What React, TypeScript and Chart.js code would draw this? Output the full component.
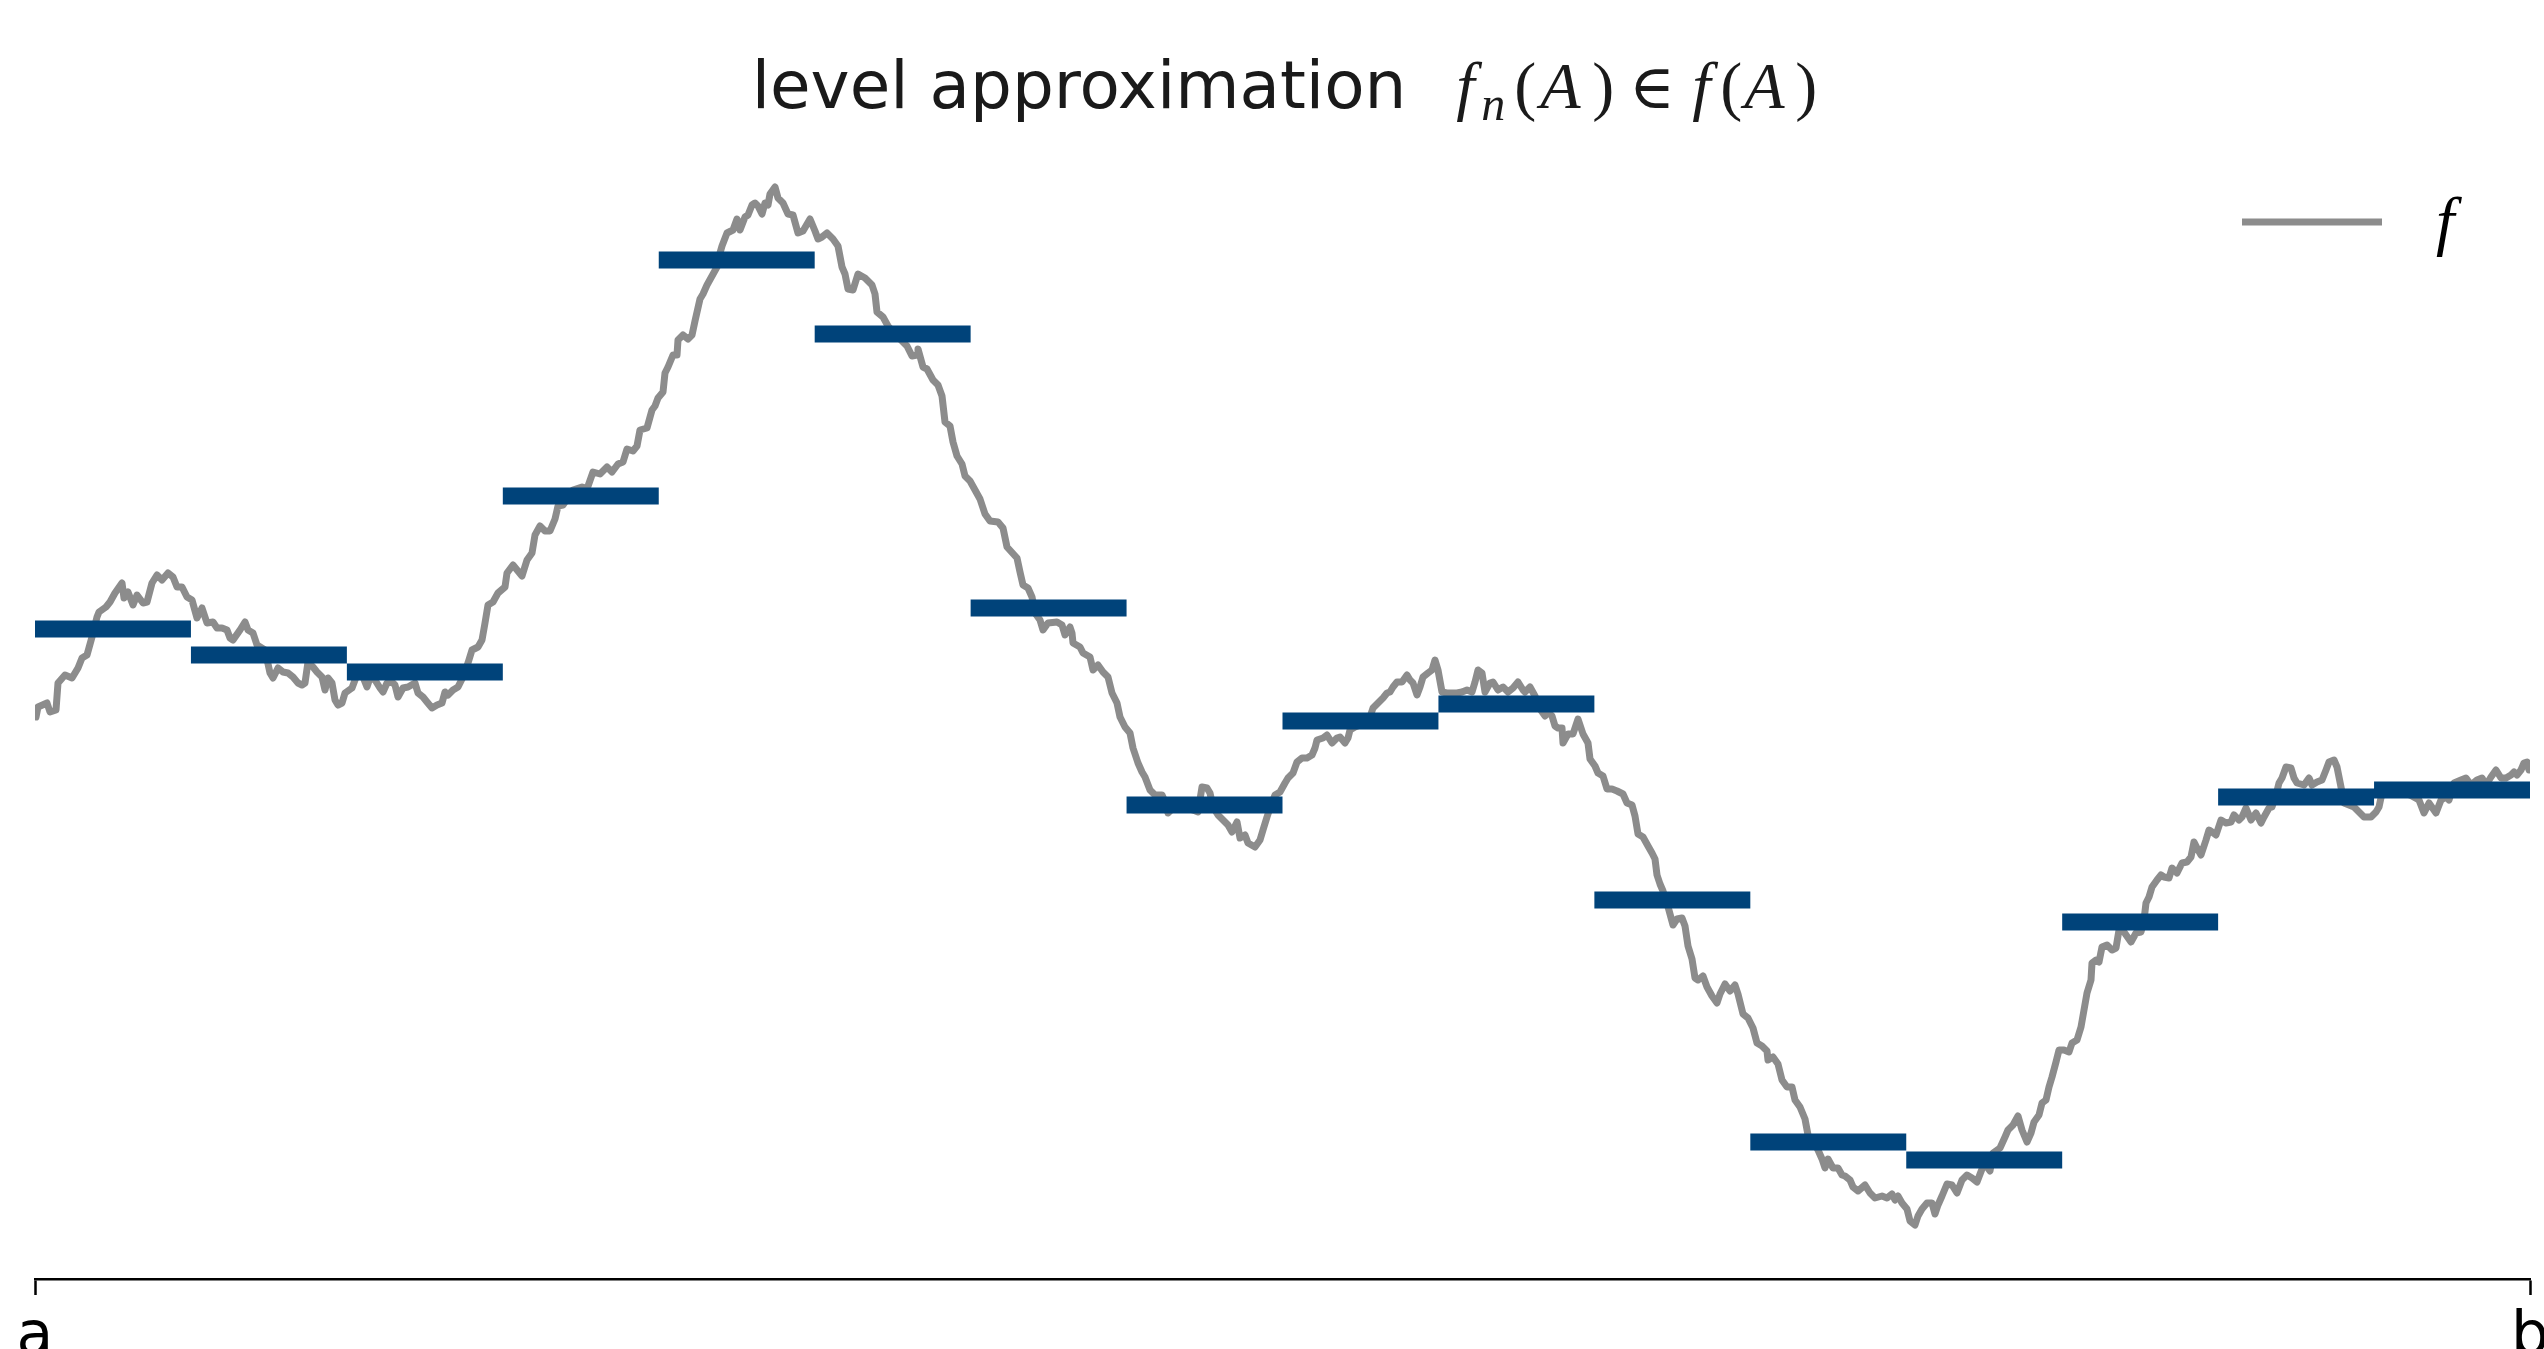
import React, { useEffect, useRef } from 'react';
import { Chart, registerables } from 'chart.js';

Chart.register(...registerables);

// ---- data ----
const X_A = 0;
const X_B = 2495;
const Y_MIN = 0;
const Y_MAX = 1129;
const TICK_LABELS = ['a', 'b'];
const TITLE_TEXT = 'level approximation';
const LEGEND_LABEL = 'f';

// level values f_n(A) for the 16 equal sub-intervals of [a, b]
const LEVELS = [650, 624, 607, 783, 1019, 945, 671, 474, 558, 575, 379, 137, 119, 357, 482, 489];

// samples of f: [x, f(x)]
const F_SAMPLES: [number, number][] = [
  [1,562],[3,572],[12,576],[15,567],[21,569],[23,596],[30,604],[37,601],[43,611],[47,621],[52,624],[57,642],[62,662],[64,667],[71,672],[75,677],[80,686],[87,696],[89,681],[93,687],[98,674],[102,684],[108,676],[112,677],[117,696],[122,704],[127,699],[133,706],[138,702],[142,692],[147,692],[152,682],[157,679],[162,661],[167,671],[172,656],[178,657],[182,651],[187,651],[192,649],[195,641],[198,639],[205,649],[210,657],[213,649],[218,646],[222,634],[230,629],[235,606],[238,601],[243,611],[248,607],[253,606],[258,602],[263,596],[267,594],[270,596],[273,617],[278,612],[282,607],[287,602],[290,589],[293,601],[297,596],[300,579],[303,574],[307,576],[310,586],[317,591],[320,599],[323,607],[328,602],[332,592],[335,601],[340,599],[345,591],[348,587],[352,596],[357,597],[360,594],[363,582],[368,591],[373,592],[380,596],[383,586],[388,582],[392,577],[397,571],[402,574],[407,576],[410,587],[413,584],[418,589],[423,592],[428,602],[433,616],[437,629],[443,632],[447,639],[450,656],[453,674],[458,677],[463,686],[470,692],[472,706],[478,714],[487,703],[492,719],[497,726],[500,744],[505,753],[510,748],[515,748],[520,760],[523,773],[528,774],[538,789],[547,792],[552,790],[558,807],[565,805],[572,812],[577,807],[583,815],[588,817],[592,830],[598,828],[602,833],[605,849],[612,851],[617,869],[620,873],[623,881],[628,887],[630,906],[633,912],[638,924],[642,924],[643,939],[648,944],[653,940],[657,944],[660,958],[665,980],[668,985],[672,994],[677,1003],[682,1012],[685,1026],[687,1033],[692,1046],[698,1049],[702,1060],[705,1049],[710,1062],[713,1064],[717,1074],[720,1076],[723,1073],[727,1065],[730,1076],[733,1074],[735,1085],[740,1092],[743,1081],[748,1076],[753,1065],[758,1064],[763,1046],[768,1048],[775,1060],[780,1048],[783,1040],[787,1042],[792,1046],[798,1040],[803,1033],[807,1012],[810,1005],[813,990],[818,989],[823,1005],[830,1001],[837,994],[840,985],[842,967],[848,962],[853,953],[865,940],[872,933],[877,923],[882,924],[883,930],[888,912],[892,910],[898,899],[903,894],[907,883],[910,857],[915,853],[918,837],[922,823],[927,815],[930,803],[935,798],[940,789],[945,780],[950,765],[955,758],[963,757],[968,751],[972,732],[982,721],[985,707],[988,694],[993,691],[997,682],[1000,666],[1005,659],[1008,649],[1013,656],[1022,657],[1027,654],[1030,644],[1035,652],[1037,646],[1038,636],[1045,632],[1048,626],[1055,622],[1058,609],[1063,614],[1068,607],[1073,602],[1077,586],[1082,576],[1085,562],[1090,552],[1095,546],[1098,531],[1103,516],[1107,507],[1110,502],[1115,489],[1120,484],[1127,484],[1130,477],[1133,466],[1138,471],[1145,474],[1152,472],[1158,469],[1163,467],[1167,492],[1172,491],[1175,486],[1178,472],[1183,464],[1188,459],[1193,454],[1197,447],[1202,457],[1205,441],[1210,444],[1213,436],[1220,432],[1225,439],[1228,449],[1232,462],[1235,471],[1240,484],[1245,487],[1250,496],[1253,501],[1258,506],[1262,517],[1267,521],[1272,521],[1277,524],[1280,531],[1282,539],[1288,541],[1292,544],[1297,536],[1302,541],[1305,542],[1310,536],[1313,541],[1315,549],[1320,552],[1325,554],[1330,559],[1335,562],[1338,571],[1343,576],[1348,581],[1352,586],[1355,587],[1358,592],[1362,597],[1367,597],[1372,604],[1375,599],[1378,596],[1382,584],[1385,592],[1388,602],[1393,606],[1397,609],[1400,619],[1403,609],[1407,587],[1412,586],[1417,586],[1422,586],[1427,587],[1432,589],[1437,587],[1440,597],[1443,609],[1447,606],[1450,587],[1455,596],[1458,597],[1463,589],[1468,592],[1473,587],[1478,591],[1483,597],[1488,589],[1490,587],[1495,592],[1500,583],[1505,570],[1510,563],[1513,567],[1517,563],[1520,553],[1523,551],[1527,551],[1528,536],[1533,545],[1538,545],[1543,560],[1548,545],[1553,536],[1555,520],[1560,513],[1563,506],[1568,503],[1572,490],[1577,490],[1582,488],[1588,485],[1592,476],[1597,474],[1600,463],[1603,445],[1608,442],[1613,433],[1617,426],[1620,420],[1622,404],[1625,395],[1628,388],[1632,376],[1635,365],[1638,354],[1642,360],[1647,361],[1650,353],[1653,333],[1657,320],[1660,301],[1663,299],[1668,303],[1672,292],[1677,283],[1682,276],[1685,285],[1690,295],[1695,288],[1700,294],[1703,285],[1708,265],[1713,261],[1718,251],[1722,236],[1727,233],[1732,228],[1733,219],[1738,222],[1743,215],[1747,199],[1752,192],[1757,192],[1760,179],[1765,172],[1770,160],[1773,144],[1778,138],[1783,129],[1787,120],[1790,111],[1793,120],[1798,111],[1803,111],[1807,104],[1810,103],[1815,99],[1818,92],[1823,88],[1830,94],[1835,86],[1840,81],[1847,83],[1852,81],[1857,85],[1860,79],[1863,83],[1867,76],[1872,70],[1875,58],[1880,54],[1883,63],[1887,70],[1892,76],[1897,76],[1900,65],[1903,74],[1907,83],[1912,95],[1917,94],[1922,86],[1927,99],[1932,104],[1937,101],[1942,97],[1947,110],[1950,115],[1955,108],[1958,126],[1965,131],[1970,142],[1973,149],[1978,154],[1983,163],[1987,149],[1992,137],[1996,146],[1999,157],[2004,164],[2007,176],[2011,179],[2014,192],[2017,202],[2021,217],[2024,229],[2029,229],[2034,227],[2037,236],[2042,239],[2046,252],[2049,269],[2052,286],[2056,299],[2057,316],[2061,319],[2064,317],[2067,332],[2072,334],[2077,329],[2081,331],[2084,349],[2089,347],[2096,337],[2101,346],[2106,347],[2109,359],[2111,376],[2114,382],[2117,392],[2122,399],[2126,404],[2129,402],[2134,401],[2137,411],[2142,406],[2147,416],[2152,417],[2156,422],[2159,437],[2162,431],[2166,424],[2171,439],[2174,449],[2177,447],[2181,444],[2186,459],[2191,456],[2196,457],[2199,464],[2204,459],[2207,462],[2211,471],[2216,459],[2221,466],[2226,456],[2229,462],[2234,471],[2237,472],[2241,484],[2244,496],[2247,501],[2251,512],[2256,511],[2259,501],[2262,496],[2269,494],[2274,501],[2277,494],[2282,497],[2287,499],[2291,509],[2294,517],[2299,519],[2302,512],[2306,492],[2309,476],[2314,474],[2319,472],[2324,467],[2329,462],[2336,462],[2341,467],[2344,472],[2347,486],[2352,487],[2365,489],[2375,484],[2384,479],[2389,466],[2394,476],[2401,466],[2406,479],[2411,482],[2414,479],[2419,496],[2426,499],[2431,501],[2436,494],[2442,499],[2447,501],[2451,494],[2456,502],[2461,509],[2466,501],[2471,501],[2476,504],[2479,507],[2482,504],[2486,509],[2489,516],[2492,517],[2494,509]
];

// ---- styles ----
const LINE_COLOR = '#8c8c8c';
const BAR_COLOR = '#00437a';
const SERIF = '"Liberation Serif", "DejaVu Serif", serif';

const titleLegendPlugin = {
  id: 'titleLegend',
  afterDraw(chart: any) {
    const { ctx, chartArea } = chart;
    ctx.save();
    ctx.textBaseline = 'alphabetic';
    ctx.textAlign = 'left';
    // title
    const cx = (chartArea.left + chartArea.right) / 2;
    ctx.font = '66px "DejaVu Sans"';
    const tw = ctx.measureText(TITLE_TEXT).width;
    const GAP = 50;
    const MATH_W = 357;
    const x0 = cx - (tw + GAP + MATH_W) / 2;
    const base = 108;
    ctx.fillStyle = '#1a1a1a';
    ctx.fillText(TITLE_TEXT, x0, base);
    const m = x0 + tw + GAP;
    const it = 'italic 66px ' + SERIF;
    const up = '66px ' + SERIF;
    const pieces: [string, string, number, number][] = [
      ['f', it, 0, 0],
      ['n', 'italic 48px ' + SERIF, 25, 12],
      ['(', up, 58, 0],
      ['A', it, 84, 0],
      [')', up, 136, 0],
      ['\u2208', '62px ' + SERIF, 173, 0],
      ['f', it, 236, 0],
      ['(', up, 264, 0],
      ['A', it, 288, 0],
      [')', up, 339, 0],
    ];
    for (const [txt, font, dx, dy] of pieces) {
      ctx.font = font;
      ctx.fillText(txt, m + dx, base + dy);
    }
    // legend
    const ds = chart.data.datasets[1];
    const ly = chartArea.top + 72;
    ctx.strokeStyle = ds.borderColor;
    ctx.lineWidth = ds.borderWidth;
    ctx.lineCap = 'butt';
    ctx.beginPath();
    ctx.moveTo(chartArea.right - 288, ly);
    ctx.lineTo(chartArea.right - 148, ly);
    ctx.stroke();
    ctx.fillStyle = '#000';
    ctx.font = 'italic 66px ' + SERIF;
    ctx.fillText(LEGEND_LABEL, chartArea.right - 94, chartArea.top + 93);
    ctx.restore();
  },
};

export default function App() {
  const ref = useRef<HTMLCanvasElement | null>(null);
  useEffect(() => {
    if (!ref.current) return;
    const w = (X_B - X_A) / LEVELS.length;
    const barData: { x: number; y: number | null }[] = [];
    LEVELS.forEach((v, i) => {
      barData.push({ x: X_A + i * w, y: v });
      barData.push({ x: X_A + (i + 1) * w, y: v });
      barData.push({ x: X_A + (i + 1) * w, y: null });
    });
    const fData = F_SAMPLES.map(([x, y]) => ({ x, y }));
    const chart = new Chart(ref.current, {
      type: 'line',
      data: {
        datasets: [
          {
            label: 'f_n',
            data: barData as any,
            borderColor: BAR_COLOR,
            backgroundColor: BAR_COLOR,
            borderWidth: 17,
            borderCapStyle: 'butt',
            pointRadius: 0,
            spanGaps: false,
            order: 0,
          },
          {
            label: LEGEND_LABEL,
            data: fData,
            borderColor: LINE_COLOR,
            backgroundColor: LINE_COLOR,
            borderWidth: 7,
            borderJoinStyle: 'round',
            borderCapStyle: 'round',
            pointRadius: 0,
            order: 1,
          },
        ],
      },
      options: {
        animation: false,
        responsive: true,
        maintainAspectRatio: false,
        devicePixelRatio: 1,
        events: [],
        layout: { padding: { top: 150, left: 35, right: 14, bottom: 0 } },
        plugins: {
          legend: { display: false },
          title: { display: false },
          tooltip: { enabled: false },
        },
        scales: {
          x: {
            type: 'linear',
            min: X_A,
            max: X_B,
            afterBuildTicks: (s: any) => {
              s.ticks = [{ value: X_A }, { value: X_B }];
            },
            afterFit: (s: any) => {
              s.height = 70;
              s.paddingLeft = 0;
              s.paddingRight = 0;
            },
            ticks: {
              callback: (_v: any, i: number) => TICK_LABELS[i],
              font: { family: 'DejaVu Sans', size: 60 },
              color: '#000',
              padding: 7,
              maxRotation: 0,
              autoSkip: false,
            },
            grid: {
              drawOnChartArea: false,
              drawTicks: true,
              tickLength: 16,
              tickWidth: 2.5,
              tickColor: '#000',
            },
            border: { display: true, color: '#000', width: 2.5 },
          },
          y: { display: false, min: Y_MIN, max: Y_MAX },
        },
      },
      plugins: [titleLegendPlugin],
    });
    return () => chart.destroy();
  }, []);
  return (
    <div style={{ position: 'absolute', left: 0, top: 0, width: 2544, height: 1349 }}>
      <canvas ref={ref} />
    </div>
  );
}
